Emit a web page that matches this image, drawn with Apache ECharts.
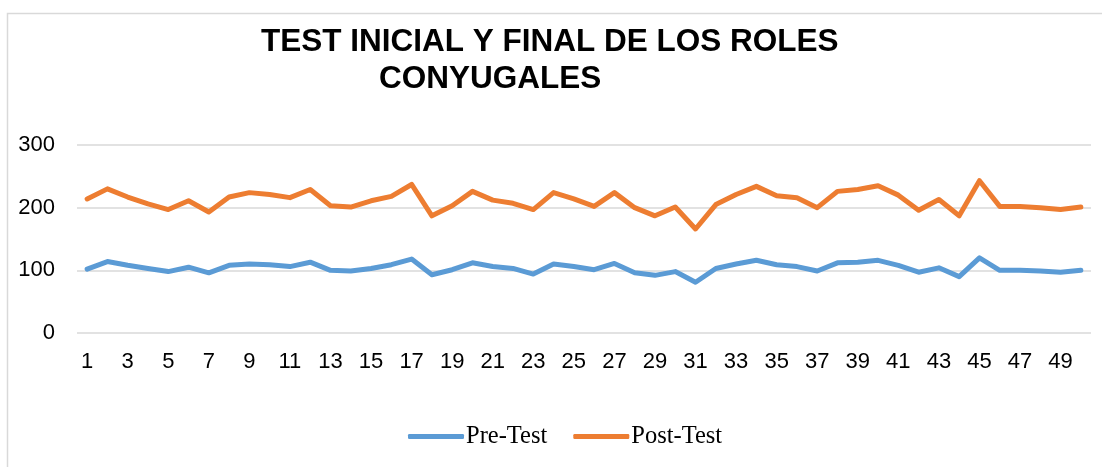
<!DOCTYPE html>
<html>
<head>
<meta charset="utf-8">
<script src="https://cdn.jsdelivr.net/npm/echarts@6/dist/echarts.min.js"></script>
<style>
html,body{margin:0;padding:0;background:#fff;}
#chart{width:1102px;height:467px;}
</style>
</head>
<body>
<div id="chart"></div>
<script>
var categories = [];
for (var i = 1; i <= 50; i++) { categories.push(String(i)); }

var preTest = [102,114,108,103,98,105,96,108,110,109,106,113,100,99,103,109,118,
               93,101,112,106,103,94,110,106,101,111,96,92,98,81,103,110,116,
               109,106,99,112,113,116,108,97,104,90,120,100,100,99,97,100];
var postTest = [214,230,217,206,197,211,193,217,224,221,216,229,203,201,211,218,237,
                187,203,226,212,207,197,224,214,202,224,200,187,201,166,205,221,234,
                219,216,200,226,229,235,220,196,213,187,243,202,202,200,197,201];

var tickLabels = ['0','100','200','300'];

var myChart = echarts.init(document.getElementById('chart'));
var option = {
    animation: false,
    title: [
        {
            text: 'TEST INICIAL Y FINAL DE LOS ROLES',
            left: 256,
            top: 21,
            textStyle: {fontFamily: 'Liberation Sans, Arial', fontWeight: 'bold', fontSize: 31.5, color: '#000'}
        },
        {
            text: 'CONYUGALES',
            left: 374,
            top: 58,
            textStyle: {fontFamily: 'Liberation Sans, Arial', fontWeight: 'bold', fontSize: 31.5, color: '#000'}
        }
    ],
    graphic: [{
        type: 'rect',
        shape: {x: 7.5, y: 13.5, width: 1200, height: 500},
        style: {fill: 'none', stroke: '#d9d9d9', lineWidth: 1.5},
        silent: true
    }],
    legend: {
        data: ['Pre-Test', 'Post-Test'],
        bottom: 13,
        left: 403,
        itemWidth: 56,
        itemHeight: 5,
        itemGap: 26,
        icon: 'roundRect',
        textStyle: {fontFamily: 'Liberation Serif, Times New Roman', fontSize: 24.5, color: '#000', padding: [0, 0, 0, -3]}
    },
    grid: {
        left: 77,
        right: 11,
        top: 145,
        bottom: 134,
        containLabel: false
    },
    xAxis: {
        type: 'category',
        data: categories,
        boundaryGap: true,
        axisLine: {show: false},
        axisTick: {show: false},
        axisLabel: {
            interval: 1,
            margin: 18,
            fontFamily: 'Liberation Sans, Arial',
            fontSize: 22,
            color: '#000'
        }
    },
    yAxis: {
        type: 'value',
        min: 0,
        max: 300,
        interval: 100,
        axisLine: {show: false},
        axisTick: {show: false},
        splitLine: {lineStyle: {color: '#d9d9d9', width: 1.5}},
        axisLabel: {
            margin: 22,
            fontFamily: 'Liberation Sans, Arial',
            fontSize: 22,
            color: '#000',
            formatter: function (v) { return tickLabels[v / 100]; }
        }
    },
    series: [
        {
            name: 'Pre-Test',
            type: 'line',
            data: preTest,
            symbol: 'none',
            itemStyle: {color: '#5B9BD5'},
            lineStyle: {color: '#5B9BD5', width: 5, cap: 'round', join: 'round'}
        },
        {
            name: 'Post-Test',
            type: 'line',
            data: postTest,
            symbol: 'none',
            itemStyle: {color: '#ED7D31'},
            lineStyle: {color: '#ED7D31', width: 5, cap: 'round', join: 'round'}
        }
    ]
};
myChart.setOption(option);
</script>
</body>
</html>
